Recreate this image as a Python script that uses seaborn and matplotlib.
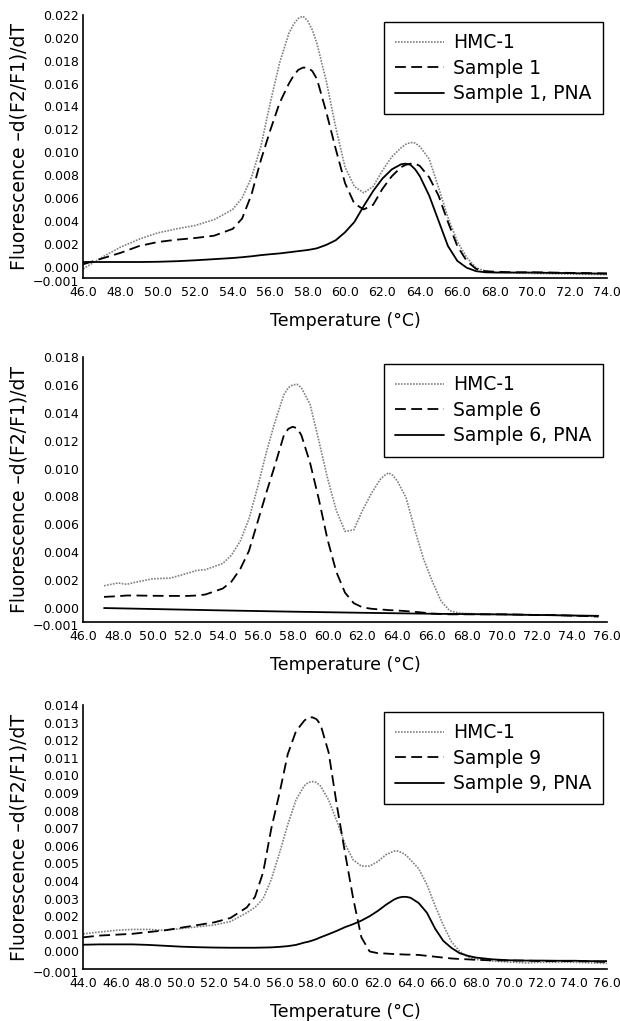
import numpy as np
import matplotlib
matplotlib.use("Agg")
import matplotlib.pyplot as plt
import matplotlib.transforms as mtransforms
import seaborn as sns

# --- data (y values in units of 1e-3) ---
# panel 1: HMC-1 / Sample 1 / Sample 1, PNA
p1_temp = [46, 47, 48, 49, 50, 51, 52, 53, 54, 54.5, 55, 55.5, 56, 56.5, 57, 57.25, 57.5, 57.75, 58, 58.25,
           58.5, 59, 59.5, 60, 60.5, 61, 61.5, 62, 62.5, 63, 63.25, 63.5, 63.75, 64, 64.5, 65, 65.5, 66,
           66.5, 67, 67.5, 68, 69, 70, 71, 72, 73, 74]
p1_hmc = [-0.2, 0.8, 1.7, 2.4, 2.95, 3.3, 3.6, 4.1, 5.0, 6.0, 7.8, 10.5, 14.3, 17.8, 20.4, 21.2, 21.7, 21.9, 21.5, 20.7,
          19.5, 16.2, 12.2, 8.7, 7.0, 6.45, 7.0, 8.4, 9.6, 10.4, 10.7, 10.85, 10.8, 10.5, 9.4, 6.9, 4.3, 2.2,
          0.8, -0.1, -0.4, -0.5, -0.55, -0.6, -0.62, -0.65, -0.68, -0.7]
p1_sample = [0.2, 0.7, 1.2, 1.8, 2.15, 2.35, 2.5, 2.7, 3.3, 4.2, 6.3, 9.3, 11.9, 14.3, 16.0, 16.7, 17.2, 17.4, 17.4, 17.1,
             16.4, 13.5, 10.3, 7.3, 5.5, 5.0, 5.4, 6.8, 7.9, 8.7, 8.9, 9.0, 9.0, 8.8, 7.8, 6.2, 3.9, 1.8,
             0.5, -0.2, -0.4, -0.45, -0.5, -0.5, -0.52, -0.55, -0.57, -0.6]
p1_pna = [0.4, 0.4, 0.4, 0.4, 0.42, 0.47, 0.55, 0.65, 0.75, 0.82, 0.9, 1.0, 1.08, 1.15, 1.25, 1.3, 1.35, 1.4, 1.45, 1.52,
          1.6, 1.9, 2.3, 3.0, 3.9, 5.3, 6.6, 7.7, 8.5, 8.95, 9.0, 8.9, 8.5, 7.9, 6.2, 4.0, 1.8, 0.5,
          -0.1, -0.4, -0.5, -0.52, -0.52, -0.52, -0.55, -0.57, -0.6, -0.62]

# panel 2: HMC-1 / Sample 6 / Sample 6, PNA
p2_temp = [47.2, 48, 48.5, 49, 50, 51, 52, 52.5, 53, 54, 54.5, 55, 55.5, 56, 56.5, 57, 57.5, 57.75, 58, 58.25,
           58.5, 59, 59.5, 60, 60.5, 61, 61.5, 62, 62.5, 63, 63.25, 63.5, 63.75, 64, 64.5, 65, 65.5, 66,
           66.5, 67, 67.5, 68, 69, 70, 71, 72, 73, 74, 75, 75.5]
p2_hmc = [1.6, 1.8, 1.7, 1.85, 2.1, 2.15, 2.5, 2.7, 2.75, 3.2, 3.8, 4.8, 6.4, 8.7, 11.2, 13.4, 15.3, 15.8, 16.0, 16.05,
          15.8, 14.6, 12.0, 9.3, 7.0, 5.5, 5.6, 7.0, 8.2, 9.2, 9.5, 9.7, 9.5, 9.1, 7.9, 5.6, 3.5, 1.9,
          0.5, -0.2, -0.35, -0.4, -0.42, -0.45, -0.48, -0.5, -0.52, -0.55, -0.58, -0.65]
p2_sample = [0.8, 0.85, 0.9, 0.9, 0.88, 0.87, 0.87, 0.9, 0.97, 1.4, 1.9, 2.8, 4.1, 6.2, 8.3, 10.3, 12.4, 12.85, 13.0, 12.9,
             12.4, 10.4, 7.8, 4.9, 2.6, 1.1, 0.35, 0.05, -0.05, -0.1, -0.12, -0.15, -0.16, -0.18, -0.22, -0.27, -0.33, -0.4,
             -0.43, -0.45, -0.45, -0.45, -0.45, -0.45, -0.47, -0.5, -0.5, -0.55, -0.58, -0.6]
p2_pna_temp = [47.2, 50, 54, 58, 62, 66, 70, 75.5]
p2_pna = [0.0, -0.07, -0.17, -0.26, -0.34, -0.41, -0.46, -0.56]

# panel 3: HMC-1 / Sample 9 / Sample 9, PNA
p3_temp = [44, 45, 46, 47, 48, 49, 50, 51, 52, 53, 54, 54.5, 55, 55.5, 56, 56.5, 57, 57.5, 57.75, 58, 58.25,
           58.5, 59, 59.5, 60, 60.5, 61, 61.5, 62, 62.5, 63, 63.25, 63.5, 63.75, 64, 64.5, 65, 65.5, 66,
           66.5, 67, 67.5, 68, 69, 70, 71, 72, 73, 74, 75, 76]
p3_hmc = [1.0, 1.1, 1.2, 1.25, 1.25, 1.2, 1.3, 1.4, 1.5, 1.7, 2.2, 2.5, 3.0, 4.1, 5.6, 7.2, 8.6, 9.4, 9.6, 9.65, 9.6,
          9.4, 8.6, 7.4, 6.1, 5.2, 4.85, 4.85, 5.1, 5.5, 5.7, 5.7, 5.6, 5.45, 5.2, 4.7, 3.8, 2.6, 1.5,
          0.55, 0.0, -0.3, -0.45, -0.55, -0.6, -0.65, -0.62, -0.62, -0.62, -0.65, -0.68]
p3_sample = [0.8, 0.9, 0.95, 1.0, 1.1, 1.2, 1.35, 1.5, 1.65, 1.9, 2.5, 3.1, 4.5, 7.0, 9.0, 11.2, 12.5, 13.1, 13.3, 13.3, 13.2,
             12.9, 11.3, 8.3, 5.6, 3.0, 0.8, 0.0, -0.1, -0.12, -0.15, -0.16, -0.17, -0.18, -0.18, -0.2, -0.25, -0.3, -0.35,
             -0.4, -0.43, -0.45, -0.48, -0.5, -0.52, -0.52, -0.55, -0.55, -0.55, -0.57, -0.6]
p3_pna = [0.38, 0.4, 0.4, 0.4, 0.37, 0.32, 0.27, 0.24, 0.22, 0.21, 0.21, 0.21, 0.22, 0.23, 0.26, 0.3, 0.37, 0.5, 0.55, 0.62, 0.7,
          0.8, 0.98, 1.17, 1.38, 1.55, 1.75, 2.0, 2.3, 2.65, 2.95, 3.05, 3.1, 3.1, 3.05, 2.75, 2.2, 1.3, 0.6,
          0.2, -0.1, -0.25, -0.35, -0.45, -0.5, -0.52, -0.52, -0.53, -0.53, -0.55, -0.55]

p1_xticks = np.arange(46, 74.1, 2)
p2_xticks = np.arange(46, 76.1, 2)
p3_xticks = np.arange(44, 76.1, 2)
p1_yticks = [-0.001] + list(np.arange(0, 0.0221, 0.002))
p2_yticks = [-0.001] + list(np.arange(0, 0.0181, 0.002))
p3_yticks = list(np.arange(-0.001, 0.01401, 0.001))

YLABEL = "Fluorescence \u2013d(F2/F1)/dT"
XLABEL = "Temperature (\u00b0C)"

sns.set_style("white")
plt.rcParams['font.family'] = ['DejaVu Sans']
plt.rcParams['text.color'] = 'black'
plt.rcParams['axes.labelcolor'] = 'black'


def plot_panel(fig, ax, series, xticks, yticks, sample_name):
    """Draw one melting-curve panel."""
    (t_hmc, hmc), (t_s, s), (t_p, p) = series
    sns.lineplot(x=t_hmc, y=np.array(hmc) * 1e-3, ax=ax, color='#808080',
                 linestyle=(0, (1, 0.8)), linewidth=1.2, label='HMC-1')
    sns.lineplot(x=t_s, y=np.array(s) * 1e-3, ax=ax, color='black',
                 linestyle=(0, (6, 3)), linewidth=1.3, label=sample_name)
    sns.lineplot(x=t_p, y=np.array(p) * 1e-3, ax=ax, color='black',
                 linestyle='-', linewidth=1.3, label=sample_name + ', PNA')

    ax.set_xlim(xticks[0], xticks[-1])
    ax.set_ylim(yticks[0], yticks[-1])
    ax.set_xticks(xticks)
    ax.set_xticklabels([f'{x:.1f}' for x in xticks])
    ax.set_yticks(yticks)
    ax.set_yticklabels([f'{y:.3f}'.replace('-', '\u2212') for y in yticks])
    ax.tick_params(axis='x', direction='in', length=10, width=1, labelsize=9, pad=6, colors='black')
    ax.tick_params(axis='y', direction='in', length=7, width=1, labelsize=9, pad=3, colors='black')
    # the -0.001 label sits a little below the corner
    lab = ax.yaxis.get_major_ticks()[0].label1
    lab.set_transform(lab.get_transform() + mtransforms.ScaledTranslation(0, -3 / 100, fig.dpi_scale_trans))
    for side in ['top', 'right']:
        ax.spines[side].set_visible(False)
    for side in ['left', 'bottom']:
        ax.spines[side].set_color('black')
        ax.spines[side].set_linewidth(1.2)
    ax.set_xlabel(XLABEL, fontsize=12.5, labelpad=9)
    ax.set_ylabel(YLABEL, fontsize=13.5, labelpad=3)
    leg = ax.legend(loc='upper right', bbox_to_anchor=(0.992, 0.974), borderaxespad=0,
                    fontsize=13.5, handlelength=2.6, handletextpad=0.5, frameon=True, fancybox=False,
                    framealpha=1, edgecolor='black', labelspacing=0.35, borderpad=0.6)
    leg.get_frame().set_linewidth(1.0)
    for txt in leg.get_texts():
        txt.set_color('black')


fig = plt.figure(figsize=(6.2, 10.21), dpi=100)
ax1 = fig.add_axes([0.134, 0.7277, 0.845, 0.2576])
ax2 = fig.add_axes([0.134, 0.3908, 0.845, 0.2595])
ax3 = fig.add_axes([0.134, 0.0509, 0.845, 0.2586])

plot_panel(fig, ax1, [(p1_temp, p1_hmc), (p1_temp, p1_sample), (p1_temp, p1_pna)],
           p1_xticks, p1_yticks, 'Sample 1')
plot_panel(fig, ax2, [(p2_temp, p2_hmc), (p2_temp, p2_sample), (p2_pna_temp, p2_pna)],
           p2_xticks, p2_yticks, 'Sample 6')
plot_panel(fig, ax3, [(p3_temp, p3_hmc), (p3_temp, p3_sample), (p3_temp, p3_pna)],
           p3_xticks, p3_yticks, 'Sample 9')

fig.savefig('out.png', dpi=100)
